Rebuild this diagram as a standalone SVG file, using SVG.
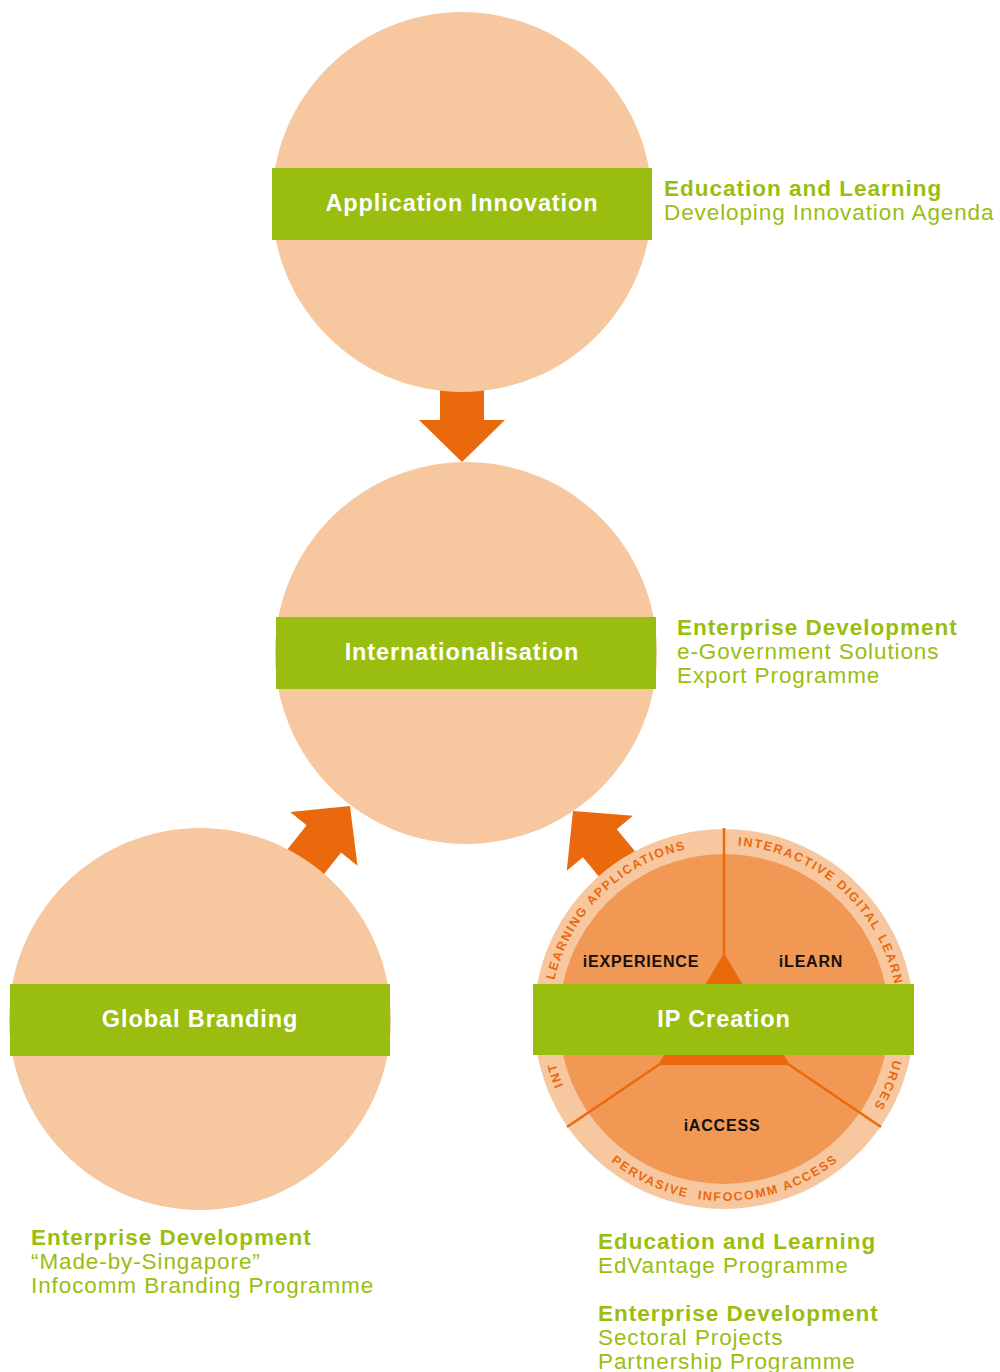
<svg xmlns="http://www.w3.org/2000/svg" xmlns:xlink="http://www.w3.org/1999/xlink" width="1000" height="1372" viewBox="0 0 1000 1372">
  <style>
    .disc { fill: #F7C8A0; }
    .band { fill: #99BE0F; }
    .bandlabel { font-family: "Liberation Sans", Arial, sans-serif; font-weight: bold; font-size: 23.5px; letter-spacing: 0.9px; fill: #FFFFFF; text-anchor: middle; }
    .arrow { fill: #EA690C; }
    .note { font-family: "Liberation Sans", Arial, sans-serif; font-size: 22.5px; fill: #99BE0F; letter-spacing: 0.9px; }
    .note .h { font-weight: bold; letter-spacing: 1.0px; }
    .inner { fill: #F29855; }
    .divider { stroke: #EA690C; stroke-width: 2.5; fill: none; }
    .core { fill: #EA690C; }
    .seg { font-family: "Liberation Sans", Arial, sans-serif; font-weight: bold; font-size: 16px; letter-spacing: 0.8px; fill: #111111; text-anchor: middle; }
    .ring { font-family: "Liberation Sans", Arial, sans-serif; font-weight: bold; font-size: 12.5px; letter-spacing: 1.7px; fill: #EA690C; }
  </style>
  <defs>
    <polygon id="arrowShape" points="0,0 43,-42 22,-42 22,-90 -22,-90 -22,-42 -43,-42"/>
    <path id="ringCW" d="M573.3,1106 A174,174 0 0,1 874.7,932 A174,174 0 0,1 573.3,1106"/>
    <path id="ringCCW" d="M595.3,1147.7 A182,182 0 0,0 852.7,1147.7"/>
  </defs>

  <g id="connectors">
    <use xlink:href="#arrowShape" class="arrow" transform="translate(462,462)"/>
    <use xlink:href="#arrowShape" class="arrow" transform="translate(350,806) rotate(-141.5)"/>
    <use xlink:href="#arrowShape" class="arrow" transform="translate(573,811) rotate(140.3)"/>
  </g>

  <g id="node-application-innovation">
    <circle class="disc" cx="462" cy="202" r="190"/>
    <rect class="band" x="272" y="168" width="380" height="72"/>
    <text class="bandlabel" x="462" y="211">Application Innovation</text>
  </g>

  <g id="node-internationalisation">
    <circle class="disc" cx="466" cy="653" r="191"/>
    <rect class="band" x="276" y="617" width="380" height="72"/>
    <text class="bandlabel" x="462" y="660">Internationalisation</text>
  </g>

  <g id="node-global-branding">
    <circle class="disc" cx="200" cy="1019" r="191"/>
    <rect class="band" x="10" y="984" width="380" height="72"/>
    <text class="bandlabel" x="200" y="1027">Global Branding</text>
  </g>

  <g id="node-ip-creation">
    <circle class="disc" cx="724" cy="1019" r="190"/>
    <circle class="inner" cx="724" cy="1019" r="165"/>
    <text class="ring"><textPath xlink:href="#ringCW" startOffset="22.8">INT</textPath></text>
    <text class="ring"><textPath xlink:href="#ringCW" startOffset="130">LEARNING</textPath></text>
    <text class="ring"><textPath xlink:href="#ringCW" startOffset="214.1">APPLICATIONS</textPath></text>
    <text class="ring"><textPath xlink:href="#ringCW" startOffset="378.1">INTERACTIVE</textPath></text>
    <text class="ring"><textPath xlink:href="#ringCW" startOffset="485.3">DIGITAL</textPath></text>
    <text class="ring"><textPath xlink:href="#ringCW" startOffset="552.4">LEARN</textPath></text>
    <text class="ring"><textPath xlink:href="#ringCW" startOffset="678.6">URCES</textPath></text>
    <text class="ring"><textPath xlink:href="#ringCCW" startOffset="20.8">PERVASIVE</textPath></text>
    <text class="ring"><textPath xlink:href="#ringCCW" startOffset="116.3">INFOCOMM</textPath></text>
    <text class="ring"><textPath xlink:href="#ringCCW" startOffset="204.5">ACCESS</textPath></text>
    <line class="divider" x1="724" y1="828" x2="724" y2="955"/>
    <line class="divider" x1="660" y1="1064" x2="567" y2="1127"/>
    <line class="divider" x1="788" y1="1064" x2="881" y2="1127"/>
    <polygon class="core" points="724,953 790,1065 658,1065"/>
    <text class="seg" x="641" y="967">iEXPERIENCE</text>
    <text class="seg" x="811" y="967">iLEARN</text>
    <text class="seg" x="722" y="1131">iACCESS</text>
    <rect class="band" x="533" y="984" width="381" height="71"/>
    <text class="bandlabel" x="724" y="1027">IP Creation</text>
  </g>

  <g id="note-application-innovation" class="note">
    <text class="h" x="664" y="196">Education and Learning</text>
    <text x="664" y="220">Developing Innovation Agenda</text>
  </g>

  <g id="note-internationalisation" class="note">
    <text class="h" x="677" y="635">Enterprise Development</text>
    <text x="677" y="659">e-Government Solutions</text>
    <text x="677" y="683">Export Programme</text>
  </g>

  <g id="note-global-branding" class="note">
    <text class="h" x="31" y="1245">Enterprise Development</text>
    <text x="31" y="1269">“Made-by-Singapore”</text>
    <text x="31" y="1293">Infocomm Branding Programme</text>
  </g>

  <g id="note-ip-creation" class="note">
    <text class="h" x="598" y="1249">Education and Learning</text>
    <text x="598" y="1273">EdVantage Programme</text>
    <text class="h" x="598" y="1321">Enterprise Development</text>
    <text x="598" y="1345">Sectoral Projects</text>
    <text x="598" y="1369">Partnership Programme</text>
  </g>
</svg>
